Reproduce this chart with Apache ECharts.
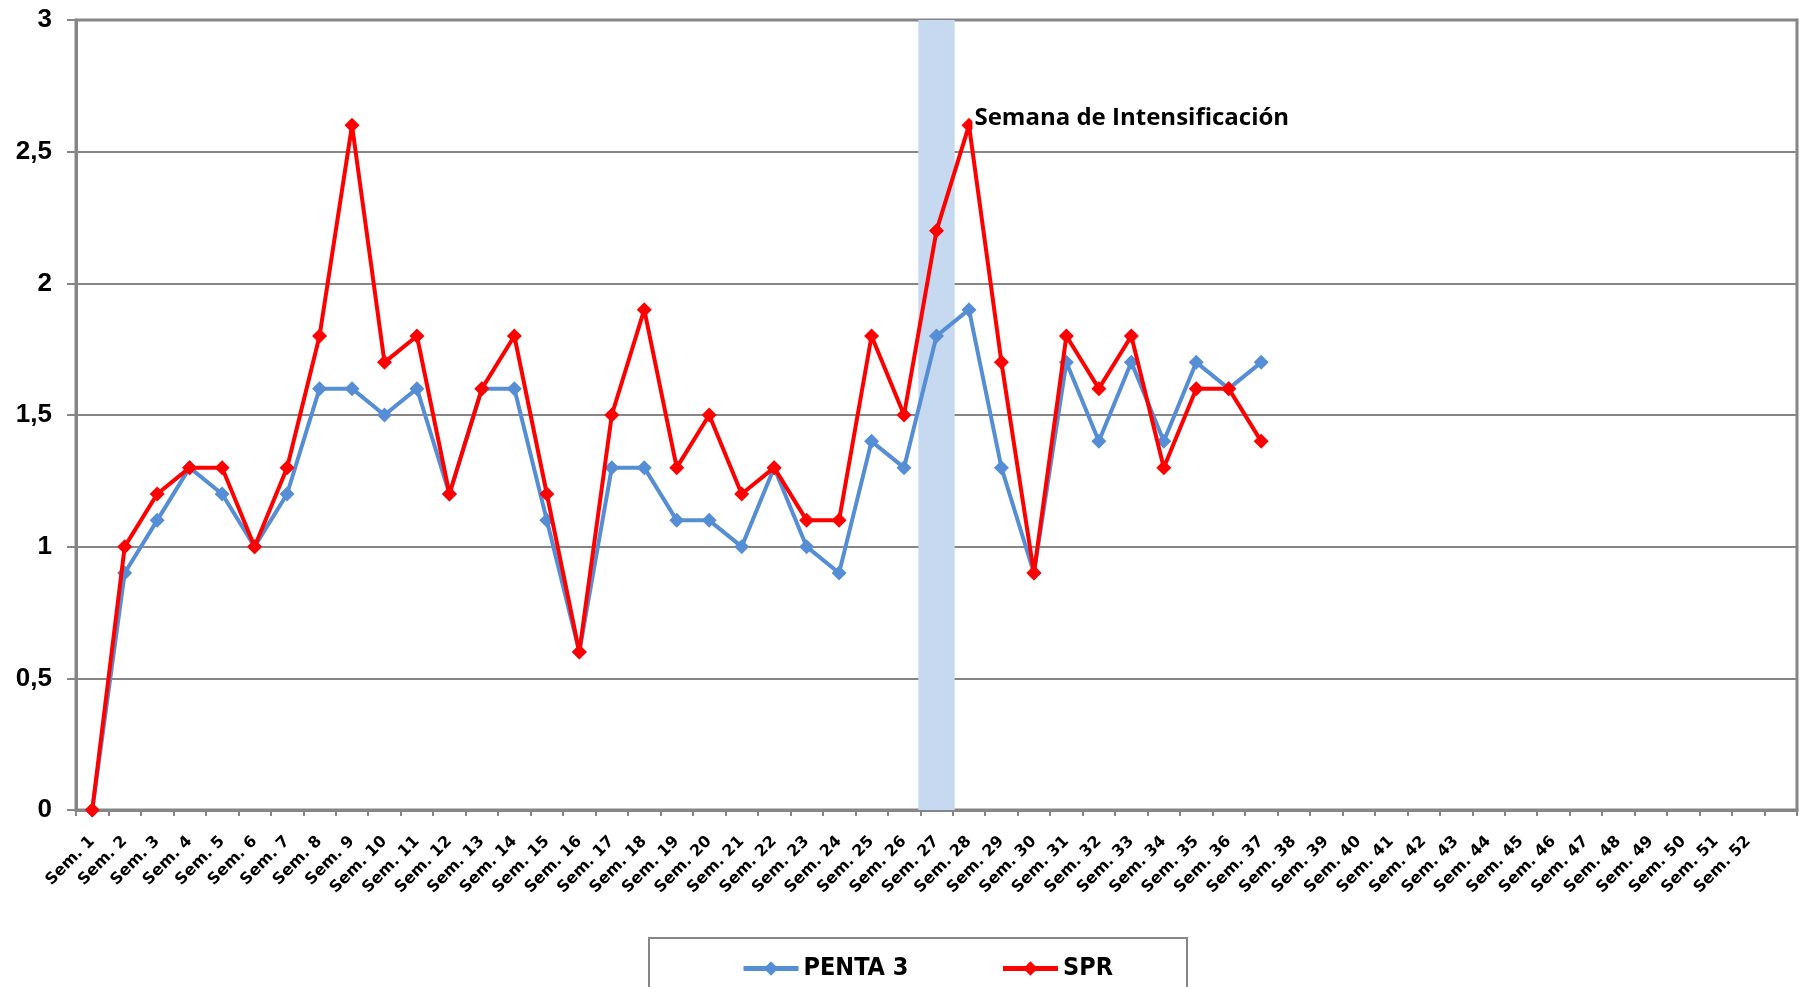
<!DOCTYPE html>
<html>
<head>
<meta charset="utf-8">
<script src="https://cdn.jsdelivr.net/npm/echarts@6/dist/echarts.min.js"></script>
<style>
html,body{margin:0;padding:0;background:#fff;}
#chart{width:1802px;height:987px;}
</style>
</head>
<body>
<div id="chart"></div>
<script>
// ---- data ----
var weeks = [];
for (var i = 1; i <= 52; i++) weeks.push('Sem. ' + i);
weeks.push('');
var penta3 = [0, 0.9, 1.1, 1.3, 1.2, 1.0, 1.2, 1.6, 1.6, 1.5, 1.6, 1.2, 1.6, 1.6, 1.1, 0.6, 1.3, 1.3, 1.1, 1.1, 1.0, 1.3, 1.0, 0.9, 1.4, 1.3, 1.8, 1.9, 1.3, 0.9, 1.7, 1.4, 1.7, 1.4, 1.7, 1.6, 1.7];
var spr    = [0, 1.0, 1.2, 1.3, 1.3, 1.0, 1.3, 1.8, 2.6, 1.7, 1.8, 1.2, 1.6, 1.8, 1.2, 0.6, 1.5, 1.9, 1.3, 1.5, 1.2, 1.3, 1.1, 1.1, 1.8, 1.5, 2.2, 2.6, 1.7, 0.9, 1.8, 1.6, 1.8, 1.3, 1.6, 1.6, 1.4];
var highlightWeek = 'Sem. 27';
var annotationWeek = 'Sem. 28';
var annotationText = 'Semana de Intensificación';
var yTicks = [0, 0.5, 1, 1.5, 2, 2.5, 3];

// ---- build ----
var bandData = weeks.map(function (w) { return w === highlightWeek ? yTicks[yTicks.length - 1] : null; });
var annIdx = weeks.indexOf(annotationWeek);
var sprData = spr.map(function (v, i) {
  if (i === annIdx) {
    return {
      value: v,
      label: {
        show: true, position: 'right', distance: 0, offset: [-4, -7],
        formatter: annotationText, color: '#000', fontSize: 24, fontWeight: 'bold',
        fontFamily: '"Open Sans", "Liberation Sans", sans-serif',
        backgroundColor: '#fff', padding: [2, 2, 2, 2]
      }
    };
  }
  return v;
});

var chart = echarts.init(document.getElementById('chart'), null, { renderer: 'canvas' });
var grey = '#868686';
chart.setOption({
  animation: false,
  backgroundColor: '#fff',
  grid: {
    left: 76, right: 5, top: 20, bottom: 177,
    show: true, borderColor: grey, borderWidth: 3, backgroundColor: 'transparent'
  },
  legend: {
    data: ['PENTA 3', 'SPR'],
    left: 736, top: 951,
    itemWidth: 55, itemHeight: 18, itemGap: 92,
    lineStyle: { width: 5 },
    textStyle: {
      fontSize: 25, fontWeight: 'bold', color: '#000',
      fontFamily: '"Liberation Sans Narrow", "DejaVu Sans Condensed", "Liberation Sans", sans-serif'
    }
  },
  graphic: [{
    type: 'rect', left: 648, top: 937,
    shape: { width: 538, height: 70 },
    style: { fill: 'transparent', stroke: grey, lineWidth: 2 },
    silent: true
  }],
  xAxis: {
    type: 'category',
    data: weeks,
    boundaryGap: true,
    axisLine: { show: true, lineStyle: { color: grey, width: 3 } },
    axisTick: { show: true, alignWithLabel: false, length: 6, lineStyle: { color: grey, width: 2 } },
    axisLabel: {
      interval: 0, rotate: 45, margin: 29, color: '#000', fontSize: 16, fontWeight: 'bold',
      fontFamily: '"DejaVu Sans", sans-serif'
    },
    splitLine: { show: false }
  },
  yAxis: {
    type: 'value',
    min: 0, max: 3, interval: 0.5,
    axisLine: { show: true, lineStyle: { color: grey, width: 3 } },
    axisTick: { show: true, length: 9, lineStyle: { color: grey, width: 2 } },
    axisLabel: {
      margin: 24, color: '#000', fontSize: 26, fontWeight: 'bold',
      fontFamily: '"Liberation Sans", Arial, sans-serif',
      formatter: function (v) { return String(v).replace('.', ','); }
    },
    splitLine: { show: true, lineStyle: { color: grey, width: 2 } }
  },
  series: [
    {
      name: 'Intensificación',
      type: 'bar',
      data: bandData,
      barWidth: '112%',
      silent: true,
      z: 1,
      itemStyle: { color: '#c6d9f0' },
      legendHoverLink: false
    },
    {
      name: 'PENTA 3',
      type: 'line',
      data: penta3,
      symbol: 'diamond',
      symbolSize: 15,
      z: 3,
      lineStyle: { color: '#558ed5', width: 4 },
      itemStyle: { color: '#558ed5' }
    },
    {
      name: 'SPR',
      type: 'line',
      data: sprData,
      symbol: 'diamond',
      symbolSize: 15,
      z: 4,
      lineStyle: { color: '#ff0000', width: 4 },
      itemStyle: { color: '#ff0000' }
    }
  ]
});
</script>
</body>
</html>
